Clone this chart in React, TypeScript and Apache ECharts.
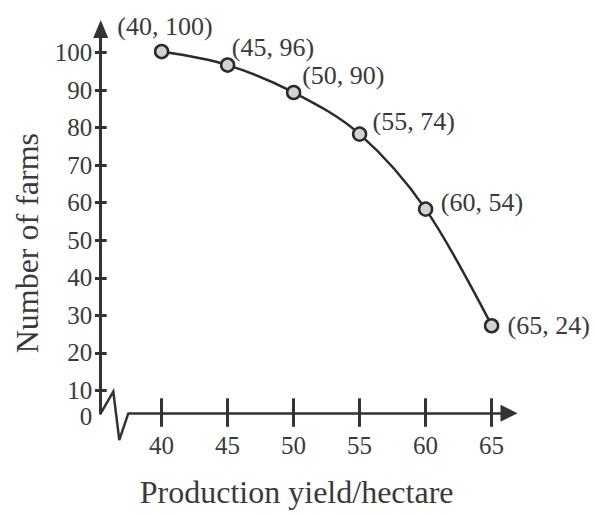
import React, { useEffect, useRef } from "react";
import * as echarts from "echarts";

// ---- data ----
const yieldValues = [40, 45, 50, 55, 60, 65];
const farmLabels = [100, 96, 90, 74, 54, 24]; // printed in the point labels
const farmPlotted = [100.3, 96.7, 89.4, 78.3, 58.3, 27.2]; // heights as drawn
const xTicks = [40, 45, 50, 55, 60, 65];
const yTicks = [10, 20, 30, 40, 50, 60, 70, 80, 90, 100];
const yZeroLabel = "0";
const xName = "Production yield/hectare";
const yName = "Number of farms";

// ---- style / layout ----
const FONT = '"Liberation Serif", "Times New Roman", Times, serif';
const AXIS = "#333333";
const TEXT = "#3a3a3a";
const W = 595;
const H = 514;
const GRID_LEFT = 128.3;
const GRID_TOP = 29;
const GRID_RIGHT = 86;
const GRID_BOTTOM = 100.7;
const Y_OFFSET = 27.6;
const X_MIN = 37.477;
const X_MAX = 66.318;
const Y_MIN = 3.868;
const Y_MAX = 106.318;
const LABEL_MARGIN = 8.5;
const labelOffsets = [
  [-52, -25],
  [-3.5, -17.5],
  [0.8, -16.5],
  [5.2, -12.3],
  [7.5, -6.8],
  [8.2, -0.7],
];

export default function App() {
  const ref = useRef<HTMLDivElement>(null);
  useEffect(() => {
    if (!ref.current) return;
    const chart = echarts.init(ref.current, null, { renderer: "svg" });
    const baseY = H - GRID_BOTTOM;
    const yAxisX = GRID_LEFT - Y_OFFSET;
    const common = { min: Y_MIN, max: Y_MAX, type: "value" as const, splitLine: { show: false } };
    const xCommon = { min: X_MIN, max: X_MAX, type: "value" as const, splitLine: { show: false } };
    chart.setOption({
      animation: false,
      backgroundColor: "#ffffff",
      grid: { left: GRID_LEFT, top: GRID_TOP, right: GRID_RIGHT, bottom: GRID_BOTTOM },
      xAxis: [
        {
          ...xCommon,
          position: "bottom",
          name: xName,
          nameLocation: "middle",
          nameGap: 63,
          nameTextStyle: { fontFamily: FONT, fontSize: 32, color: TEXT, padding: [0, 44, 0, 0] },
          axisLine: {
            show: true,
            onZero: false,
            symbol: ["none", "triangle"],
            symbolSize: [17, 17],
            lineStyle: { color: AXIS, width: 2.5 },
          },
          axisTick: {
            show: true,
            inside: false,
            length: 13.5,
            customValues: xTicks,
            lineStyle: { color: AXIS, width: 3 },
          },
          axisLabel: {
            show: true,
            customValues: xTicks,
            margin: 20,
            fontFamily: FONT,
            fontSize: 25,
            color: TEXT,
          },
        },
        {
          ...xCommon,
          position: "bottom",
          axisLine: { show: false, onZero: false },
          axisTick: {
            show: true,
            inside: true,
            length: 15,
            customValues: xTicks,
            lineStyle: { color: AXIS, width: 3 },
          },
          axisLabel: { show: false },
        },
      ],
      yAxis: [
        {
          ...common,
          position: "left",
          offset: Y_OFFSET,
          name: yName,
          nameLocation: "middle",
          nameGap: 58,
          nameRotate: 90,
          nameTextStyle: { fontFamily: FONT, fontSize: 32, color: TEXT, padding: [0, 44, 0, 0] },
          axisLine: {
            show: true,
            onZero: false,
            symbol: ["none", "triangle"],
            symbolSize: [15, 18],
            lineStyle: { color: AXIS, width: 3 },
          },
          axisTick: {
            show: true,
            inside: false,
            length: 5.7,
            customValues: yTicks,
            lineStyle: { color: AXIS, width: 3 },
          },
          axisLabel: {
            show: true,
            customValues: yTicks,
            margin: LABEL_MARGIN,
            fontFamily: FONT,
            fontSize: 25,
            color: TEXT,
          },
        },
        {
          ...common,
          position: "left",
          offset: Y_OFFSET,
          axisLine: { show: false, onZero: false },
          axisTick: {
            show: true,
            inside: true,
            length: 6,
            customValues: yTicks,
            lineStyle: { color: AXIS, width: 3 },
          },
          axisLabel: { show: false },
        },
      ],
      series: [
        {
          type: "line",
          xAxisIndex: 0,
          yAxisIndex: 0,
          smooth: 0.35,
          clip: false,
          silent: true,
          symbol: "circle",
          symbolSize: 13,
          z: 5,
          data: yieldValues.map((x, i) => ({
            value: [x, farmPlotted[i]],
            label: { offset: labelOffsets[i] },
          })),
          itemStyle: { color: "#d3d3d3", borderColor: "#2b2b2b", borderWidth: 2.5 },
          lineStyle: { color: "#2b2b2b", width: 2.5 },
          label: {
            show: true,
            position: "right",
            distance: 0,
            formatter: (p: any) => `(${yieldValues[p.dataIndex]}, ${farmLabels[p.dataIndex]})`,
            fontFamily: FONT,
            fontSize: 26,
            color: TEXT,
          },
        },
      ],
      graphic: [
        {
          type: "polyline",
          z: 10,
          shape: {
            points: [
              [yAxisX, baseY],
              [113.3, 391.7],
              [119.3, 440],
              [GRID_LEFT, baseY],
            ],
          },
          style: { stroke: AXIS, lineWidth: 2.5, fill: "none" },
        },
        {
          type: "text",
          z: 10,
          x: yAxisX - LABEL_MARGIN,
          y: baseY + 3,
          style: {
            text: yZeroLabel,
            font: `25px ${FONT}`,
            fill: TEXT,
            textAlign: "right",
            textVerticalAlign: "middle",
          },
        },
      ],
    });
    return () => chart.dispose();
  }, []);
  return (
    <div
      ref={ref}
      style={{ position: "fixed", left: 0, top: 0, width: W, height: H, background: "#fff" }}
    />
  );
}
